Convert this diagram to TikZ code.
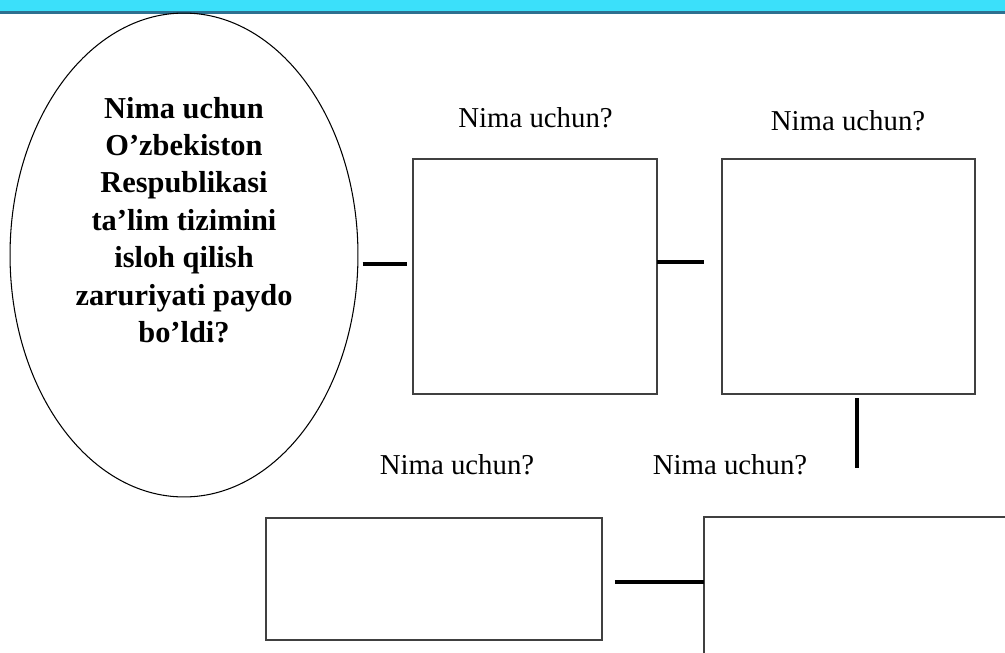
\documentclass[tikz,border=0pt]{standalone}
\usepackage{fontspec}
\setmainfont{Liberation Serif}
\usepackage{tikz}
\usetikzlibrary{shapes.geometric, positioning}
\definecolor{barcyan}{HTML}{3BE0FA}
\definecolor{barline}{HTML}{2E7090}
\tikzset{qbox/.style={rectangle, draw=black!75, line width=0.9pt, inner sep=0pt, outer sep=0pt},
         link/.style={line width=2pt, black},
         why/.style={font=\fontsize{16.4}{20}\selectfont}}

\begin{document}
\begin{tikzpicture}[x=0.02cm, y=-0.02cm]
                 \useasboundingbox (0,0) rectangle (1005,653);
                 \clip (0,0) rectangle (1005,653);
                 \fill[barcyan] (0,0) rectangle (1005,11);
                 \fill[barline] (0,11) rectangle (1005,13.5);

                 \node[ellipse, draw, line width=0.6pt, inner sep=0pt, minimum width=6.96cm, minimum height=9.68cm] (q) at (184,255) {};
                 \node[font=\bfseries\fontsize{17.3}{21.3}\selectfont, align=center] (qt) at (184,220)
                     {Nima uchun\\O’zbekiston\\Respublikasi\\ta’lim tizimini\\isloh qilish\\zaruriyati paydo\\bo’ldi?};

                 \node[qbox, minimum width=4.88cm, minimum height=4.7cm] (b1) at (535,276.5) {};
                 \node[qbox, minimum width=5.06cm, minimum height=4.7cm] (b2) at (848.5,276.5) {};
                 \node[qbox, minimum width=6.72cm, minimum height=2.44cm] (b3) at (434,579) {};
                 \node[qbox, minimum width=6.6cm, minimum height=3.2cm] (b4) at (869,597) {};

                 \node[why] (w1) at (535.5,118) {Nima uchun?};
                 \node[why] (w2) at (848,121) {Nima uchun?};
                 \node[why] (w3) at (457,465) {Nima uchun?};
                 \node[why] (w4) at (730,465) {Nima uchun?};

                 \coordinate (l1) at (0,264);
                 \coordinate (l2) at (0,262);
                 \coordinate (l4) at (0,582);
                 \coordinate (v) at (857,468);
                 \draw[link, shorten <=2.3pt, shorten >=3.4pt] (q.east |- l1) -- (b1.west |- l1);
                 \draw[link, shorten >=10.2pt] (b1.east |- l2) -- (b2.west |- l2);
                 \draw[link, shorten <=2.3pt] (b2.south -| v) -- (v);
                 \draw[link, shorten <=7.4pt] (b3.east |- l4) -- (b4.west |- l4);
\end{tikzpicture}
\end{document}
